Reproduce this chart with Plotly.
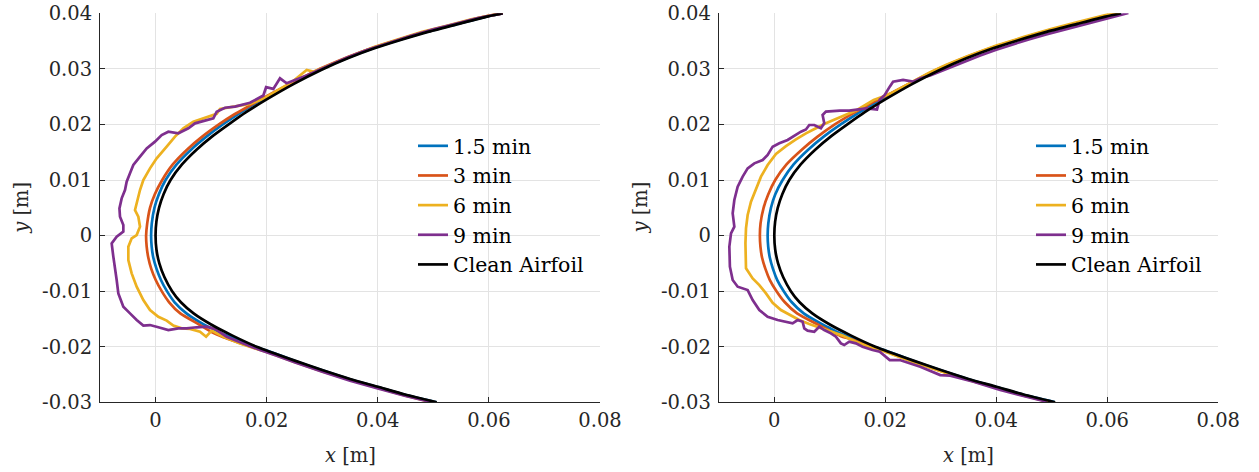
import plotly.graph_objects as go

# ---------------- data (metres) ----------------
clean_x = [0.0625, 0.0597, 0.0546, 0.0492, 0.0441, 0.0394, 0.0346, 0.0298, 0.0249, 0.0200, 0.0163, 0.01316, 0.01015, 0.00742, 0.00476, 0.0027, 0.00146, 0.00062, 0.00015, 0.0,
           0.00016, 0.00068, 0.00161, 0.00298, 0.00456, 0.00685, 0.0100, 0.01385, 0.0182, 0.02506, 0.0300, 0.0350, 0.0400, 0.0449, 0.0506]
clean_y = [0.0400, 0.0394, 0.0381, 0.0367, 0.0352, 0.0337, 0.0319, 0.0298, 0.0273, 0.0245, 0.0222, 0.0200, 0.0178, 0.0155, 0.0128, 0.0100, 0.0075, 0.0050, 0.0025, 0.0,
           -0.0025, -0.0050, -0.0075, -0.0100, -0.0120, -0.0140, -0.0160, -0.0180, -0.0200, -0.0225, -0.0242, -0.0258, -0.0272, -0.0286, -0.0300]

# left panel
l15_x = [0.0625, 0.0597, 0.0546, 0.0492, 0.0441, 0.0394, 0.0346, 0.0298, 0.0249, 0.0200, 0.0160, 0.0121, 0.00915, 0.00643, 0.0038, 0.0018, 0.00058, -0.0002, -0.00068, -0.0008,
         -0.0007, -0.0004, 0.00018, 0.00097, 0.00205, 0.00343, 0.00556, 0.0086, 0.0102, 0.0120, 0.0140, 0.0160, 0.0182, 0.0200, 0.0251, 0.0300, 0.0350, 0.0400, 0.0449, 0.0506]
l15_y = [0.0400, 0.03945, 0.03815, 0.03677, 0.03528, 0.0338, 0.0320, 0.02995, 0.02755, 0.02495, 0.0226, 0.0200, 0.0178, 0.0155, 0.0128, 0.0100, 0.0074, 0.0050, 0.0022, 0.0,
         -0.002, -0.004, -0.006, -0.008, -0.010, -0.012, -0.014, -0.01595, -0.01675, -0.01765, -0.01845, -0.0193, -0.0201, -0.0207, -0.02255, -0.02425, -0.02585, -0.02725, -0.02865, -0.0300]

l3_x = [0.0625, 0.0597, 0.0546, 0.0492, 0.0441, 0.0394, 0.0346, 0.0298, 0.0249, 0.0200, 0.0170, 0.0140, 0.0114, 0.0084, 0.0057, 0.0031, 0.0012, -0.00015, -0.0010, -0.0015, -0.0017,
        -0.0016, -0.0013, -0.00077, 0.00003, 0.0011, 0.00245, 0.00445, 0.0080, 0.0100, 0.0120, 0.0140, 0.0160, 0.0182, 0.0200, 0.0251, 0.0300, 0.0350, 0.0400, 0.0449, 0.0505]
l3_y = [0.0400, 0.0395, 0.0382, 0.03685, 0.03538, 0.0339, 0.03215, 0.0301, 0.02765, 0.0251, 0.0234, 0.0217, 0.0200, 0.0178, 0.0155, 0.0128, 0.0100, 0.0074, 0.0050, 0.0022, 0.0,
        -0.002, -0.004, -0.006, -0.008, -0.010, -0.012, -0.014, -0.0161, -0.0173, -0.0182, -0.0189, -0.0196, -0.0203, -0.0208, -0.0227, -0.02435, -0.0259, -0.0273, -0.0287, -0.03005]

l6_x = [0.0625, 0.057, 0.0524, 0.048, 0.0434, 0.0392, 0.0368, 0.0335, 0.0314, 0.0284, 0.0272, 0.0260, 0.0245, 0.0224, 0.0194, 0.0170, 0.0146, 0.0125, 0.0116, 0.0110,
        0.0086, 0.0068, 0.0050, 0.0035, 0.0020, 0.0002, -0.0010, -0.0022, -0.0028, -0.0034, -0.0037, -0.0031, -0.0028, -0.0034, -0.0043, -0.0049, -0.0049, -0.0043,
        -0.0034, -0.0022, -0.0010, 0.0005, 0.0020, 0.0032, 0.0047, 0.0062, 0.0080, 0.0091, 0.0101, 0.0122, 0.0152, 0.0182, 0.0200, 0.0250, 0.0300, 0.0350, 0.0400, 0.0450, 0.0502]
l6_y = [0.04005, 0.03895, 0.03775, 0.03665, 0.03525, 0.0339, 0.03295, 0.0316, 0.03075, 0.0295, 0.0298, 0.0288, 0.0276, 0.0264, 0.0246, 0.0237, 0.0233, 0.0230, 0.0228, 0.0219,
        0.0211, 0.0205, 0.0193, 0.0178, 0.0160, 0.0139, 0.0121, 0.0100, 0.0082, 0.0058, 0.0046, 0.0034, 0.0016, 0.0001, -0.0005, -0.0020, -0.0044, -0.0068,
        -0.0092, -0.0116, -0.0134, -0.0146, -0.0153, -0.0162, -0.0167, -0.0168, -0.0173, -0.0182, -0.0171, -0.0182, -0.0194, -0.0204, -0.02095, -0.02275, -0.02445, -0.0260, -0.02745, -0.0288, -0.0301]

l9_x = [0.0625, 0.058, 0.054, 0.050, 0.046, 0.042, 0.038, 0.0344, 0.032, 0.0296, 0.0272, 0.0251, 0.0236, 0.0224, 0.0212, 0.0199, 0.0194, 0.0170, 0.0143, 0.0125,
        0.0110, 0.0104, 0.0080, 0.0071, 0.0059, 0.0041, 0.0023, 0.0011, -0.0001, -0.0016, -0.0028, -0.0040, -0.0046, -0.0052, -0.0055, -0.0061, -0.0065, -0.0064,
        -0.0058, -0.0058, -0.0070, -0.0079, -0.0076, -0.0073, -0.0070, -0.0067, -0.0058, -0.0046, -0.0034, -0.0022, -0.0010, 0.0005, 0.0023, 0.0041, 0.0056, 0.0074,
        0.0092, 0.0107, 0.0128, 0.0158, 0.0188, 0.0218, 0.025, 0.030, 0.035, 0.040, 0.045, 0.050]
l9_y = [0.0400, 0.03915, 0.0381, 0.0371, 0.03595, 0.0347, 0.0334, 0.0320, 0.0310, 0.0299, 0.0288, 0.0280, 0.0274, 0.0283, 0.0264, 0.0267, 0.0252, 0.0239, 0.0232, 0.0230,
        0.0223, 0.0211, 0.0205, 0.0202, 0.0193, 0.0184, 0.0187, 0.0181, 0.0169, 0.0157, 0.0142, 0.0127, 0.0112, 0.0097, 0.0082, 0.0067, 0.0049, 0.0034,
        0.0019, 0.0007, -0.0002, -0.0014, -0.0038, -0.0056, -0.0080, -0.0104, -0.0128, -0.0140, -0.0152, -0.0162, -0.0161, -0.0165, -0.0170, -0.0167, -0.0167, -0.0165,
        -0.0164, -0.0168, -0.0182, -0.0194, -0.0206, -0.0216, -0.0228, -0.0245, -0.0261, -0.0275, -0.02885, -0.03005]

# right panel
r15_x = [0.0625, 0.0597, 0.0546, 0.0492, 0.0441, 0.0394, 0.0346, 0.0298, 0.0249, 0.0200, 0.0160, 0.01196, 0.0089, 0.00615, 0.00348, 0.0015, 0.00016, -0.0006, -0.00108, -0.0012,
         -0.0011, -0.0008, -0.00024, 0.00053, 0.0017, 0.00315, 0.0053, 0.0086, 0.0102, 0.0120, 0.0140, 0.0160, 0.0182, 0.0200, 0.0251, 0.0300, 0.0350, 0.0400, 0.0449, 0.0505]
r15_y = [0.0400, 0.03945, 0.03815, 0.03677, 0.03528, 0.0338, 0.0320, 0.02995, 0.02755, 0.02495, 0.0226, 0.0200, 0.0178, 0.0155, 0.0128, 0.0100, 0.0074, 0.0050, 0.0022, 0.0,
         -0.002, -0.004, -0.006, -0.008, -0.010, -0.012, -0.014, -0.01595, -0.01675, -0.01765, -0.01845, -0.0193, -0.0201, -0.0207, -0.02255, -0.02425, -0.02585, -0.02725, -0.02865, -0.02995]

r3_x = [0.0623, 0.0597, 0.0546, 0.0492, 0.0441, 0.0394, 0.0346, 0.0298, 0.0249, 0.0200, 0.0170, 0.0140, 0.0109, 0.0078, 0.0050, 0.0022, 0.00017, -0.0011, -0.00193, -0.00248, -0.0026,
        -0.0025, -0.0022, -0.0016, -0.0008, 0.0004, 0.0019, 0.0041, 0.0080, 0.0100, 0.0120, 0.0140, 0.0160, 0.0182, 0.0200, 0.0251, 0.0300, 0.0350, 0.0400, 0.0449, 0.0503]
r3_y = [0.0400, 0.0395, 0.0382, 0.03685, 0.03538, 0.0339, 0.03215, 0.0301, 0.02765, 0.0251, 0.0236, 0.0219, 0.0200, 0.0178, 0.0155, 0.0128, 0.0100, 0.0074, 0.0050, 0.0022, 0.0,
        -0.002, -0.004, -0.006, -0.008, -0.010, -0.012, -0.014, -0.0161, -0.01715, -0.0181, -0.0187, -0.0195, -0.02025, -0.0208, -0.0227, -0.02435, -0.02595, -0.02735, -0.02875, -0.03005]

r6_x = [0.0622, 0.060, 0.055, 0.050, 0.045, 0.040, 0.035, 0.031, 0.028, 0.025, 0.023, 0.021, 0.0195, 0.0179, 0.0149, 0.0135, 0.0111, 0.0093, 0.0075, 0.0057,
        0.0039, 0.0021, 0.0003, -0.0012, -0.0024, -0.0033, -0.0042, -0.0048, -0.0051, -0.0052, -0.0052, -0.0051, -0.0039, -0.0027, -0.0015, -0.0003, 0.0012,
        0.0030, 0.0045, 0.0063, 0.0081, 0.0099, 0.0123, 0.0147, 0.0170, 0.0200, 0.025, 0.030, 0.035, 0.040, 0.045, 0.0498]
r6_y = [0.0400, 0.03975, 0.0385, 0.0372, 0.03575, 0.0342, 0.03235, 0.03075, 0.02935, 0.02775, 0.0266, 0.0256, 0.0250, 0.0244, 0.0226, 0.0220, 0.0211, 0.0202, 0.0193, 0.0184,
        0.0173, 0.0161, 0.0147, 0.0127, 0.0106, 0.0085, 0.0061, 0.0037, 0.0013, -0.0014, -0.0038, -0.0059, -0.0077, -0.0089, -0.0104, -0.0121, -0.0134,
        -0.0144, -0.0152, -0.0159, -0.0165, -0.0171, -0.0180, -0.0191, -0.0200, -0.0209, -0.02275, -0.0244, -0.0260, -0.0274, -0.0288, -0.03005]

r9_x = [0.0638, 0.0587, 0.055, 0.052, 0.049, 0.046, 0.043, 0.040, 0.0371, 0.034, 0.0311, 0.0281, 0.0263, 0.0250, 0.0232, 0.0214, 0.0208, 0.0199, 0.0190, 0.0185,
        0.0166, 0.0135, 0.0118, 0.0093, 0.0087, 0.0090, 0.0084, 0.0072, 0.0063, 0.0057, 0.0048, 0.0039, 0.0024, 0.0009, -0.0003, -0.0012, -0.0021, -0.0036,
        -0.0048, -0.0057, -0.0066, -0.0072, -0.0075, -0.0072, -0.0078, -0.0081, -0.0080, -0.0075, -0.0066, -0.0048, -0.0039, -0.0027, -0.0012, 0.0006, 0.0021,
        0.0033, 0.0042, 0.0051, 0.0054, 0.0060, 0.0072, 0.0081, 0.0090, 0.0102, 0.0111, 0.0120, 0.0126, 0.0135, 0.0147, 0.0159, 0.0177, 0.0190, 0.0208, 0.0226,
        0.0263, 0.0299, 0.0317, 0.0359, 0.0407, 0.0443, 0.0479, 0.0491]
r9_y = [0.04005, 0.03875, 0.03775, 0.0370, 0.0362, 0.03535, 0.03445, 0.03345, 0.0324, 0.0312, 0.02995, 0.0288, 0.0283, 0.0277, 0.0280, 0.0277, 0.0268, 0.0253, 0.0245, 0.0227,
        0.0229, 0.0225, 0.0225, 0.0223, 0.0217, 0.0202, 0.0193, 0.0199, 0.0199, 0.0191, 0.0187, 0.0181, 0.0172, 0.0166, 0.0160, 0.0145, 0.0136, 0.0130,
        0.0121, 0.0106, 0.0088, 0.0064, 0.0040, 0.0016, 0.0004, -0.0020, -0.0056, -0.0080, -0.0092, -0.0098, -0.0116, -0.0134, -0.0146, -0.0152, -0.0156,
        -0.0158, -0.0152, -0.0155, -0.0167, -0.0171, -0.0173, -0.0164, -0.0170, -0.0176, -0.0182, -0.0194, -0.0197, -0.0191, -0.0194, -0.0200, -0.0206, -0.0209, -0.0224, -0.0224,
        -0.0236, -0.0251, -0.0252, -0.0263, -0.0278, -0.0287, -0.0296, -0.0299]

names = ["1.5 min", "3 min", "6 min", "9 min", "Clean Airfoil"]
colors = ["#0072BD", "#D95319", "#EDB120", "#7E2F8E", "#000000"]
x_ticks = [0, 0.02, 0.04, 0.06, 0.08]
x_ticktext = ["0", "0.02", "0.04", "0.06", "0.08"]
y_ticks = [-0.03, -0.02, -0.01, 0, 0.01, 0.02, 0.03, 0.04]
y_ticktext = ["-0.03", "-0.02", "-0.01", "0", "0.01", "0.02", "0.03", "0.04"]

FONT = "DejaVu Serif"
TXT = "#262626"
W, H = 1259, 472
FS = 19.5

fig = go.Figure()

panels = [
    ("x", "y", "legend", [(l15_x, l15_y), (l3_x, l3_y), (l6_x, l6_y), (l9_x, l9_y), (clean_x, clean_y)]),
    ("x2", "y2", "legend2", [(r15_x, r15_y), (r3_x, r3_y), (r6_x, r6_y), (r9_x, r9_y), (clean_x, clean_y)]),
]
for xa, ya, lg, series in panels:
    for i, (sx, sy) in enumerate(series):
        smooth = i in (0, 1, 4)
        fig.add_trace(go.Scatter(
            x=sx, y=sy, mode="lines", name=names[i], xaxis=xa, yaxis=ya, legend=lg,
            line=dict(color=colors[i], width=2.7,
                      shape="spline" if smooth else "linear", smoothing=0.6 if smooth else None),
            showlegend=True,
        ))

ydom = [1 - 402.3 / H, 1 - 13.3 / H]
xdom1 = [100.0 / W, 600.0 / W]
xdom2 = [718.8 / W, 1218.3 / W]

axis_common = dict(
    showgrid=True, gridcolor="#e3e3e3", gridwidth=1,
    showline=True, linecolor=TXT, linewidth=1,
    ticks="inside", ticklen=5, tickcolor=TXT, tickwidth=1,
    zeroline=False, mirror=False, automargin=False,
    tickfont=dict(family=FONT, size=FS, color=TXT),
)

fig.update_layout(
    width=W, height=H, autosize=False,
    margin=dict(l=0, r=0, t=0, b=0, pad=0, autoexpand=False),
    paper_bgcolor="white", plot_bgcolor="white",
    font=dict(family=FONT, size=FS, color=TXT),
    xaxis=dict(domain=xdom1, range=[-0.01, 0.08], tickvals=x_ticks, ticktext=x_ticktext, anchor="y", **axis_common),
    yaxis=dict(domain=ydom, range=[-0.03, 0.04], tickvals=y_ticks, ticktext=y_ticktext, anchor="x",
               ticklabelstandoff=3, **axis_common),
    xaxis2=dict(domain=xdom2, range=[-0.01, 0.08], tickvals=x_ticks, ticktext=x_ticktext, anchor="y2", **axis_common),
    yaxis2=dict(domain=ydom, range=[-0.03, 0.04], tickvals=y_ticks, ticktext=y_ticktext, anchor="x2",
                ticklabelstandoff=3, **axis_common),
    legend=dict(x=413 / W, y=1 - 126 / H, xanchor="left", yanchor="top",
                bgcolor="rgba(0,0,0,0)", borderwidth=0,
                font=dict(family=FONT, size=20.5, color="#000000")),
    legend2=dict(x=1031 / W, y=1 - 126 / H, xanchor="left", yanchor="top",
                 bgcolor="rgba(0,0,0,0)", borderwidth=0,
                 font=dict(family=FONT, size=20.5, color="#000000")),
    showlegend=True,
)

ann = []
for xd, ylab_x in ((xdom1, 22), (xdom2, 640.8)):
    ann.append(dict(text="<i>x</i> [m]", x=(xd[0] + xd[1]) / 2, y=1 - 455 / H, xref="paper", yref="paper",
                    xanchor="center", yanchor="middle", showarrow=False,
                    font=dict(family=FONT, size=FS, color=TXT)))
    ann.append(dict(text="<i>y</i> [m]", x=ylab_x / W, y=(ydom[0] + ydom[1]) / 2, xref="paper", yref="paper",
                    xanchor="center", yanchor="middle", showarrow=False, textangle=-90,
                    font=dict(family=FONT, size=FS, color=TXT)))
fig.update_layout(annotations=ann)

fig.write_html("out.html")
